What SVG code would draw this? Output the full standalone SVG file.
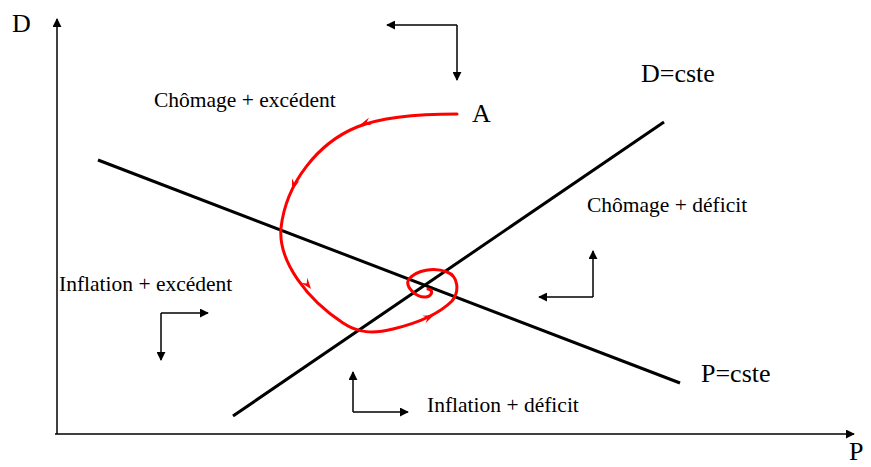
<svg xmlns="http://www.w3.org/2000/svg" width="871" height="467" viewBox="0 0 871 467">
<style>
text{font-family:"Liberation Serif","Times New Roman",serif;fill:#000}
.lbl{font-size:21.5px}
.big{font-size:26px}
.ax{stroke:#000;stroke-width:1.5;fill:none}
.ln{stroke:#000;stroke-width:3;fill:none}
.sm{stroke:#000;stroke-width:1.5;fill:none}
.red{stroke:#f00;stroke-width:3;fill:none;stroke-linecap:round;stroke-linejoin:round}
</style>
<defs>
<marker id="ar" viewBox="0 0 10 10" refX="9" refY="5" markerWidth="9" markerHeight="9" markerUnits="userSpaceOnUse" orient="auto">
<path d="M0,0 L10,5 L0,10 Z" fill="#000"/>
</marker>
<path id="rh" d="M0,0 L-11,-4 L-7,0 L-11,4 Z" fill="#f00"/>
</defs>
<g id="axes">
<line class="ax" x1="57" y1="434" x2="57" y2="19" marker-end="url(#ar)"/>
<line class="ax" x1="55" y1="434" x2="854" y2="434" marker-end="url(#ar)"/>
<text class="big" x="12" y="32">D</text>
<text class="big" x="849" y="460">P</text>
</g>
<g id="line-P">
<line class="ln" x1="98" y1="160" x2="680" y2="383"/>
<text class="big" x="701" y="382">P=cste</text>
</g>
<g id="line-D">
<line class="ln" x1="233" y1="416" x2="664" y2="122"/>
<text class="big" x="641" y="82">D=cste</text>
</g>
<g id="point-A">
<text class="big" x="472" y="122">A</text>
</g>
<g id="labels">
<text class="lbl" x="154" y="107">Chômage + excédent</text>
<text class="lbl" x="587" y="212">Chômage + déficit</text>
<text class="lbl" x="59" y="291">Inflation + excédent</text>
<text class="lbl" x="427" y="412">Inflation + déficit</text>
</g>
<g id="connectors">
<polyline class="sm" points="457,25 457,80" marker-end="url(#ar)"/>
<polyline class="sm" points="457,25 387,25" marker-end="url(#ar)"/>
<polyline class="sm" points="593,297 593,251" marker-end="url(#ar)"/>
<polyline class="sm" points="593,297 539,297" marker-end="url(#ar)"/>
<polyline class="sm" points="161,313 208,313" marker-end="url(#ar)"/>
<polyline class="sm" points="161,313 161,360" marker-end="url(#ar)"/>
<polyline class="sm" points="353,412 353,372" marker-end="url(#ar)"/>
<polyline class="sm" points="353,412 408,412" marker-end="url(#ar)"/>
</g>
<g id="trajectory">
<path class="red" d="M457,114 C420,114 382,117 357,127 C318,143 286,183 281,228 C278,262 308,300 343,323 C358,333 373,334 393,329 C418,323 440,313 452,301 C460,291 458,276 447,272 C434,267 417,270 409,279 C404,287 417,298 426,297 C432,296 434,290 428,289"/>
<use href="#rh" transform="translate(360,125) rotate(160)"/>
<use href="#rh" transform="translate(292,190) rotate(110)"/>
<use href="#rh" transform="translate(311,289) rotate(52)"/>
<use href="#rh" transform="translate(434,315) rotate(-24)"/>
</g>
</svg>
